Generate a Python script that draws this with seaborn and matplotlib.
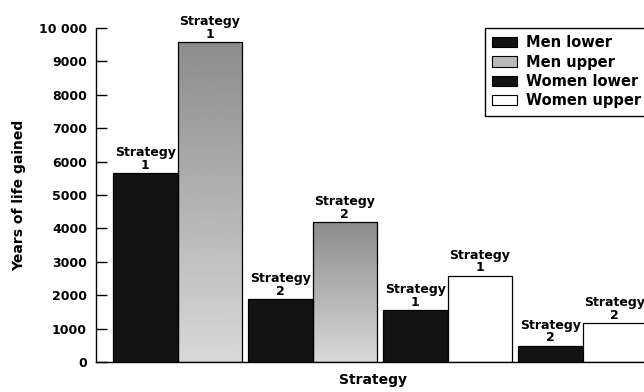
import numpy as np
import pandas as pd
import matplotlib
matplotlib.use("Agg")
import matplotlib.pyplot as plt
import seaborn as sns
from matplotlib.patches import Patch

# values (years of life gained)
groups = ["Men, strategy 1", "Men, strategy 2", "Women, strategy 1", "Women, strategy 2"]
sex = ["Men", "Men", "Women", "Women"]
strategy = ["1", "2", "1", "2"]
lower = [5650, 1880, 1560, 490]
upper = [9570, 4190, 2580, 1170]
legend_labels = ["Men lower", "Men upper", "Women lower", "Women upper"]
yticks = [0, 1000, 2000, 3000, 4000, 5000, 6000, 7000, 8000, 9000, 10000]
ytick_labels = ["0", "1000", "2000", "3000", "4000", "5000",
                "6000", "7000", "8000", "9000", "10 000"]

df = pd.DataFrame({
    "group": groups * 2,
    "bound": ["lower"] * 4 + ["upper"] * 4,
    "years": lower + upper,
})

BLACK = "#131313"
GREY = "#a9a9a9"
fills = {
    ("Men", "lower"): BLACK,
    ("Men", "upper"): GREY,
    ("Women", "lower"): BLACK,
    ("Women", "upper"): "white",
}

sns.set_style("white")
plt.rcParams["font.family"] = ["DejaVu Sans"]
plt.rcParams["font.weight"] = "bold"
plt.rcParams["text.color"] = "black"
plt.rcParams["axes.labelcolor"] = "black"
plt.rcParams["axes.edgecolor"] = "black"
plt.rcParams["ytick.color"] = "black"

fig = plt.figure(figsize=(6.44, 3.92), dpi=100)
ax = fig.add_axes([96 / 644, 30 / 392, 554 / 644, 334 / 392])

sns.barplot(
    data=df, x="group", y="years", hue="bound",
    order=groups, hue_order=["lower", "upper"],
    palette=[BLACK, GREY], saturation=1,
    width=0.955, gap=0, errorbar=None,
    edgecolor="black", linewidth=0.9, legend=False, ax=ax,
)

ax.set_xlim(-0.604, 3.5)
ax.set_ylim(0, 10000)

# recolour bars and put the "Strategy n" label on top of each
grad = np.linspace(0.85, 0.55, 256).reshape(-1, 1)
for cont, bound in zip(ax.containers, ["lower", "upper"]):
    for bar, s, st in zip(cont, sex, strategy):
        colour = fills[(s, bound)]
        bar.set_facecolor(colour)
        if colour == GREY:
            # scanned stipple is darker towards the top of each bar
            x0 = bar.get_x()
            img = ax.imshow(grad, cmap="gray", vmin=0, vmax=1, origin="lower",
                            extent=[x0, x0 + bar.get_width(), 0, bar.get_height()],
                            aspect="auto", zorder=0.5)
            img.set_clip_path(bar)
            bar.set_facecolor("none")
        ax.annotate(f"Strategy\n{st}",
                    (bar.get_x() + bar.get_width() / 2, bar.get_height()),
                    xytext=(0, 1), textcoords="offset points",
                    ha="center", va="bottom", fontsize=9, fontweight="bold",
                    linespacing=0.95, annotation_clip=False)

ax.set_xlim(-0.604, 3.5)
ax.set_ylim(0, 10000)
ax.set_xticks([])
ax.set_yticks(yticks)
ax.set_yticklabels(ytick_labels)
ax.tick_params(axis="y", direction="in", length=8, width=1, pad=6.5,
               labelsize=9, left=True)
for side in ["top", "right"]:
    ax.spines[side].set_visible(False)
for side in ["left", "bottom"]:
    ax.spines[side].set_linewidth(1)

ax.set_xlabel("Strategy", fontsize=10, fontweight="bold", labelpad=8)
ax.set_ylabel("Years of life gained", fontsize=10, fontweight="bold")
ax.yaxis.set_label_coords(-0.126, 0.5)

handles = [Patch(facecolor=BLACK, edgecolor="black", linewidth=0.8),
           Patch(facecolor="#b9b9b9", edgecolor="black", linewidth=0.8),
           Patch(facecolor=BLACK, edgecolor="black", linewidth=0.8),
           Patch(facecolor="white", edgecolor="black", linewidth=0.8)]
leg = fig.legend(handles, legend_labels, loc="upper left",
                 bbox_to_anchor=(485 / 644, 1 - 28 / 392),
                 frameon=True, fancybox=False, edgecolor="black",
                 framealpha=1, prop={"size": 10.5, "weight": "bold"},
                 handlelength=1.7, handleheight=0.7, handletextpad=0.6,
                 labelspacing=0.3, borderpad=0.5, borderaxespad=0)
leg.get_frame().set_linewidth(1)

fig.savefig("out.png", dpi=100)
